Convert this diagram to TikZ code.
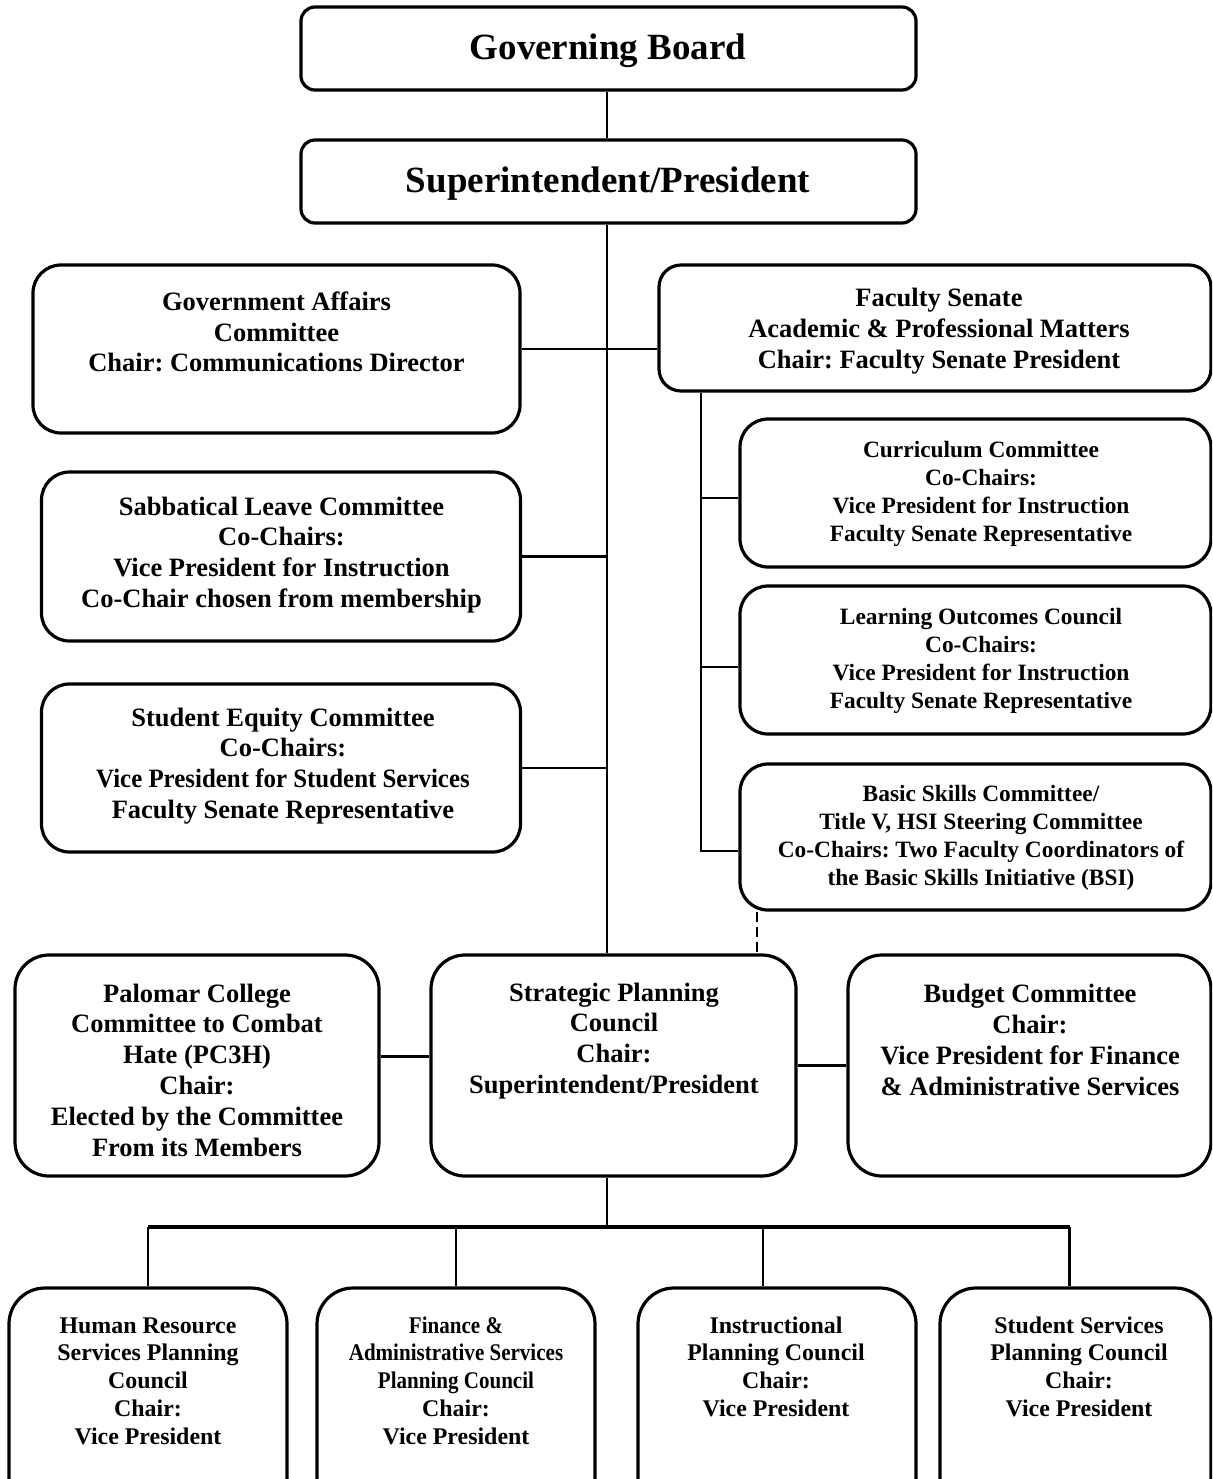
\documentclass[tikz,border=0pt]{standalone}
\usepackage{fontspec}
\setmainfont{Liberation Serif}
\usepackage{graphicx}
\usepackage{tikz}
\frenchspacing
\tikzstyle{conn}=[line width=2.8pt]
\newcommand{\orgnode}{\node[draw,line width=3.2pt,rounded corners=28pt,inner sep=0pt]}
\newcommand{\txtnode}{\node[align=center,inner sep=0pt]}
\newcommand{\bigf}{\bfseries\fontsize{37}{44}\selectfont}
\newcommand{\midf}{\bfseries\fontsize{26.5}{30.8}\selectfont}
\newcommand{\subf}{\bfseries\fontsize{23.4}{28}\selectfont}
\newcommand{\botf}{\bfseries\fontsize{23.9}{27.7}\selectfont}
\newcommand{\narrow}[1]{\scalebox{0.88}[1]{#1}}

\begin{document}
\begin{tikzpicture}[x=1pt,y=-1pt]
      \useasboundingbox (0,0) rectangle (1212,1479);
      \clip (0,0) rectangle (1212,1479);
      % top of the chart
      \orgnode (gb) [minimum width=615pt,minimum height=83pt,rounded corners=14pt] at (608.5,48.5) {};
      \txtnode (gbt) [font=\bigf] at (608,51) {Governing Board};
      \orgnode (sp) [minimum width=615pt,minimum height=83pt,rounded corners=14pt] at (608.5,181.5) {};
      \txtnode (spt) [font=\bigf] at (608,184) {Superintendent/President};
      % left column
      \orgnode (ga) [minimum width=487pt,minimum height=168pt] at (276.5,349) {};
      \txtnode (gat) [font=\midf] at (276.5,332) {Government Affairs\\Committee\\Chair: Communications Director};
      \orgnode (sl) [minimum width=479pt,minimum height=169pt] at (281,556.5) {};
      \txtnode (slt) [font=\midf] at (281.5,555) {Sabbatical Leave Committee\\Co-Chairs:\\Vice President for Instruction\\Co-Chair chosen from membership};
      \orgnode (se) [minimum width=479pt,minimum height=168pt] at (281,768) {};
      \txtnode (set) [font=\midf] at (283,766) {Student Equity Committee\\Co-Chairs:\\\scalebox{0.94}[1]{Vice President for Student Services}\\Faculty Senate Representative};
      % faculty senate side
      \orgnode (fs) [minimum width=552pt,minimum height=126pt,rounded corners=22pt] at (935,328) {};
      \txtnode (fst) [font=\midf] at (939,331) {Faculty Senate\\Academic \& Professional Matters\\Chair: Faculty Senate President};
      \orgnode (cc) [minimum width=471pt,minimum height=148pt] at (975.5,493) {};
      \txtnode (cct) [font=\subf] at (981,494) {Curriculum Committee\\Co-Chairs:\\Vice President for Instruction\\Faculty Senate Representative};
      \orgnode (lo) [minimum width=471pt,minimum height=148pt] at (975.5,660) {};
      \txtnode (lot) [font=\subf] at (981,661) {Learning Outcomes Council\\Co-Chairs:\\Vice President for Instruction\\Faculty Senate Representative};
      \orgnode (bs) [minimum width=471pt,minimum height=146pt] at (975.5,837) {};
      \txtnode (bst) [font=\subf] at (981,838) {Basic Skills Committee/\\Title V, HSI Steering Committee\\Co-Chairs: Two Faculty Coordinators of\\the Basic Skills Initiative (BSI)};
      % strategic planning row
      \orgnode (pc) [minimum width=364pt,minimum height=221pt,rounded corners=34pt] at (197,1065.5) {};
      \txtnode (pct) [font=\midf] at (197,1070) {Palomar College\\Committee to Combat\\Hate (PC3H)\\Chair:\\Elected by the Committee\\From its Members};
      \orgnode (spc) [minimum width=365pt,minimum height=221pt,rounded corners=34pt] at (613.5,1065.5) {};
      \txtnode (spct) [font=\midf] at (614,1041) {Strategic Planning\\Council\\Chair:\\Superintendent/President};
      \orgnode (bc) [minimum width=363pt,minimum height=221pt,rounded corners=34pt] at (1029.5,1065.5) {};
      \txtnode (bct) [font=\midf] at (1030,1040) {Budget Committee\\Chair:\\Vice President for Finance\\\& Administrative Services};
      % planning councils
      \orgnode (hr) [minimum width=278pt,minimum height=242pt,rounded corners=36pt] at (148,1409) {};
      \txtnode (hrt) [font=\botf] at (148,1381) {Human Resource\\Services Planning\\Council\\Chair:\\Vice President};
      \orgnode (fa) [minimum width=278pt,minimum height=242pt,rounded corners=36pt] at (456,1409) {};
      \txtnode (fat) [font=\botf] at (456,1380.5) {\narrow{Finance \&}\\\narrow{Administrative Services}\\\narrow{Planning Council}\\Chair:\\Vice President};
      \orgnode (ip) [minimum width=278pt,minimum height=242pt,rounded corners=36pt] at (777,1409) {};
      \txtnode (ipt) [font=\botf] at (776,1366.5) {Instructional\\Planning Council\\Chair:\\Vice President};
      \orgnode (ss) [minimum width=271pt,minimum height=242pt,rounded corners=36pt] at (1075.5,1409) {};
      \txtnode (sst) [font=\botf] at (1079,1366.5) {Student Services\\Planning Council\\Chair:\\Vice President};
      % connectors
      \coordinate (bus) at (607,1227);
      \coordinate (stem) at (701,851);
      \coordinate (dsh) at (757,0);
      \coordinate (ccw) at ([yshift=-5pt]cc.west);
      \coordinate (low) at ([yshift=-7pt]lo.west);
      \coordinate (pce) at ([yshift=9pt]pc.east);
      \coordinate (ipd) at ([xshift=-14pt]ip.north);
      \coordinate (ssd) at ([xshift=-6pt]ss.north);
      \draw[conn] (gb.south -| bus) -- (sp.north -| bus);
      \draw[conn] (sp.south -| bus) -- (spc.north -| bus);
      \draw[conn] (ga.east) -- (ga.east -| fs.west);
      \draw[conn] (sl.east) -- (sl.east -| bus);
      \draw[conn] (se.east) -- (se.east -| bus);
      \draw[conn] (stem |- fs.south) -- (stem) -- (stem -| bs.west);
      \draw[conn] (ccw -| stem) -- (ccw);
      \draw[conn] (low -| stem) -- (low);
      \draw[line width=2.5pt,dash pattern=on 10pt off 5pt] (bs.south -| dsh) -- (spc.north -| dsh);
      \draw[conn] (pce) -- (pce -| spc.west);
      \draw[conn,line width=3.5pt] (spc.east) -- (bc.west);
      \draw[conn] (spc.south -| bus) -- (bus);
      \draw[conn,line width=3.5pt] (hr.north |- bus) -- (ssd |- bus);
      \draw[conn] (hr.north |- bus) -- (hr.north);
      \draw[conn] (fa.north |- bus) -- (fa.north);
      \draw[conn] (ipd |- bus) -- (ipd);
      \draw[conn] (ssd |- bus) -- (ssd);
    \end{tikzpicture}
\end{document}
